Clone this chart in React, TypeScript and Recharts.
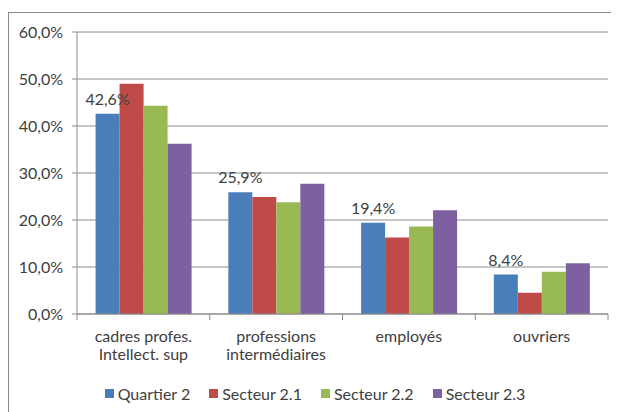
import React from 'react';
import { BarChart, Bar, XAxis, YAxis, CartesianGrid, Legend, LabelList } from 'recharts';

const categories = ['cadres profes.\nIntellect. sup', 'professions\nintermédiaires', 'employés', 'ouvriers'];
const quartier2 = [42.6, 25.9, 19.4, 8.4];
const secteur21 = [49.0, 24.9, 16.3, 4.5];
const secteur22 = [44.3, 23.8, 18.6, 9.0];
const secteur23 = [36.2, 27.7, 22.1, 10.8];
const yTicks = [0, 10, 20, 30, 40, 50, 60];

const seriesNames = ['Quartier 2', 'Secteur 2.1', 'Secteur 2.2', 'Secteur 2.3'];
const seriesKeys = ['q2', 's21', 's22', 's23'];
const colors = ['#4A7EBB', '#BE4B48', '#98B954', '#7D60A0'];

const data = categories.map((c, i) => ({
  name: c,
  q2: quartier2[i],
  s21: secteur21[i],
  s22: secteur22[i],
  s23: secteur23[i],
}));

const W = 611;
const H = 404;
const margin = { top: 24, right: 11, bottom: 9, left: 0 };
const Y_W = 69;
const bandW = (W - margin.left - margin.right - Y_W) / categories.length;
const FONT = 'Lato, "Open Sans", sans-serif';
const FS = 16;
const TXT = '#404040';
const LINE = '#8c8c8c';

const fmt = (v: number) => `${v.toFixed(1).replace('.', ',')}%`;

const XTick = (props: any) => {
  const { x, y, payload, index } = props;
  const lines = String(payload.value).split('\n');
  return (
    <g>
      <line x1={x - bandW / 2} x2={x - bandW / 2} y1={y} y2={y + 6} stroke={LINE} />
      {index === categories.length - 1 && (
        <line x1={x + bandW / 2} x2={x + bandW / 2} y1={y} y2={y + 6} stroke={LINE} />
      )}
      <text x={x} y={y + 28} textAnchor="middle" fill={TXT} fontSize={FS} fontFamily={FONT}>
        {lines.map((l, i) => (
          <tspan key={i} x={x} dy={i === 0 ? 0 : 18}>{l}</tspan>
        ))}
      </text>
    </g>
  );
};

const LegendContent = () => (
  <div style={{ display: 'flex', justifyContent: 'center', fontFamily: FONT, fontSize: FS, color: TXT, height: 20, alignItems: 'center', paddingLeft: 14 }}>
    {seriesNames.map((n, i) => (
      <div key={n} style={{ display: 'flex', alignItems: 'center', marginRight: i < 3 ? 19 : 0 }}>
        <span style={{ display: 'inline-block', width: 9, height: 9, background: colors[i], marginRight: 4 }} />
        <span>{n}</span>
      </div>
    ))}
  </div>
);

export default function App() {
  return (
    <div style={{ width: W, height: H, position: 'relative', overflow: 'hidden', background: '#fff' }}>
      <div style={{ position: 'absolute', left: 0, top: 4, width: 640, height: 440, border: '1px solid #8a8a8a', boxSizing: 'border-box' }} />
      <div style={{ position: 'absolute', left: 0, top: 0 }}>
        <BarChart width={W} height={H} data={data} margin={margin} barGap={0} barCategoryGap="14%">
          <CartesianGrid vertical={false} stroke={LINE} />
          <XAxis dataKey="name" interval={0} tickSize={0} tickMargin={0} height={69} tick={<XTick />} stroke={LINE} />
          <YAxis
            domain={[0, 60]}
            ticks={yTicks}
            width={Y_W}
            tickFormatter={fmt}
            tick={{ fill: TXT, fontSize: FS, fontFamily: FONT }}
            stroke={LINE}
            tickSize={5}
            tickMargin={9}
          />
          <Legend verticalAlign="bottom" height={20} content={<LegendContent />} />
          {seriesKeys.map((k, i) => (
            <Bar key={k} dataKey={k} name={seriesNames[i]} fill={colors[i]} isAnimationActive={false}>
              {i === 0 && (
                <LabelList dataKey={k} position="top" offset={9} formatter={(v: any) => fmt(Number(v))} style={{ fill: TXT, fontSize: FS, fontFamily: FONT }} />
              )}
            </Bar>
          ))}
        </BarChart>
      </div>
    </div>
  );
}
